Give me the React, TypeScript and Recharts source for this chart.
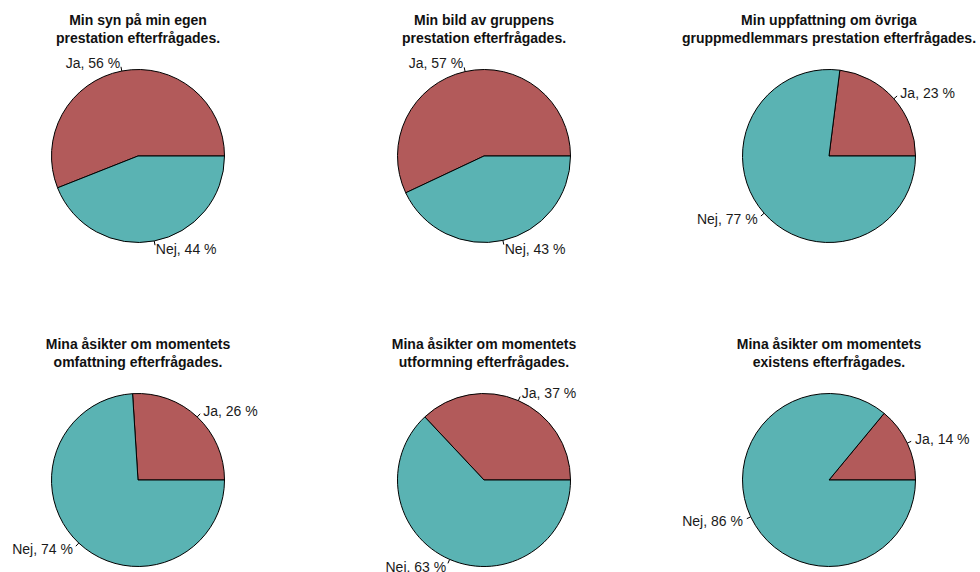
import * as React from 'react';
import { PieChart, Pie, Cell } from 'recharts';

const answers = ['Ja', 'Nej'];
const jaShares = [56, 57, 23, 26, 37, 14];
const nejShares = [44, 43, 77, 74, 63, 86];
const titles = [
  ['Min syn på min egen', 'prestation efterfrågades.'],
  ['Min bild av gruppens', 'prestation efterfrågades.'],
  ['Min uppfattning om övriga', 'gruppmedlemmars prestation efterfrågades.'],
  ['Mina åsikter om momentets', 'omfattning efterfrågades.'],
  ['Mina åsikter om momentets', 'utformning efterfrågades.'],
  ['Mina åsikter om momentets', 'existens efterfrågades.']
];

const colors = ['#B25A5A', '#5AB3B3'];
const centersX = [138, 484, 829];
const centersY = [156, 480];
const radius = 86.5;
const RAD = Math.PI / 180;
const font = '"Liberation Sans", Arial, Helvetica, sans-serif';

const renderLabel = (props: any) => {
  const { cx, cy, midAngle, outerRadius, name, value } = props;
  const cos = Math.cos(-midAngle * RAD);
  const sin = Math.sin(-midAngle * RAD);
  const x1 = cx + outerRadius * cos;
  const y1 = cy + outerRadius * sin;
  const x2 = cx + outerRadius * 1.05 * cos;
  const y2 = cy + outerRadius * 1.05 * sin;
  const tx = cx + outerRadius * 1.1 * cos;
  const ty = cy + outerRadius * 1.1 * sin;
  return (
    <g>
      <line x1={x1} y1={y1} x2={x2} y2={y2} stroke="#000" strokeWidth={1} />
      <text
        x={tx}
        y={ty}
        textAnchor={cos < 0 ? 'end' : 'start'}
        dominantBaseline="central"
        fontSize={14}
        fontFamily={font}
        fill="#1a1a1a"
      >
        {`${name}, ${value} %`}
      </text>
    </g>
  );
};

export default function App() {
  const panels = jaShares.map((ja, i) => ({
    data: [
      { name: answers[0], value: ja },
      { name: answers[1], value: nejShares[i] }
    ],
    cx: centersX[i % 3],
    cy: centersY[Math.floor(i / 3)],
    title: titles[i]
  }));

  return (
    <div style={{ position: 'absolute', left: 0, top: 0, width: 980, height: 572, background: '#fff', overflow: 'hidden' }}>
      <PieChart width={980} height={572} margin={{ top: 0, right: 0, bottom: 0, left: 0 }}>
        {panels.map((p, i) => (
          <Pie
            key={i}
            data={p.data}
            dataKey="value"
            nameKey="name"
            cx={p.cx}
            cy={p.cy}
            outerRadius={radius}
            startAngle={0}
            endAngle={360}
            stroke="#000"
            strokeWidth={1}
            label={renderLabel}
            labelLine={false}
            isAnimationActive={false}
          >
            {p.data.map((d, j) => (
              <Cell key={j} fill={colors[j]} />
            ))}
          </Pie>
        ))}
      </PieChart>
      {panels.map((p, i) => (
        <div
          key={'t' + i}
          style={{
            position: 'absolute',
            left: p.cx - 180,
            top: p.cy - 145,
            width: 360,
            textAlign: 'center',
            fontFamily: font,
            fontWeight: 'bold',
            fontSize: 14,
            lineHeight: '18px',
            color: '#111'
          }}
        >
          {p.title[0]}
          <br />
          {p.title[1]}
        </div>
      ))}
    </div>
  );
}
